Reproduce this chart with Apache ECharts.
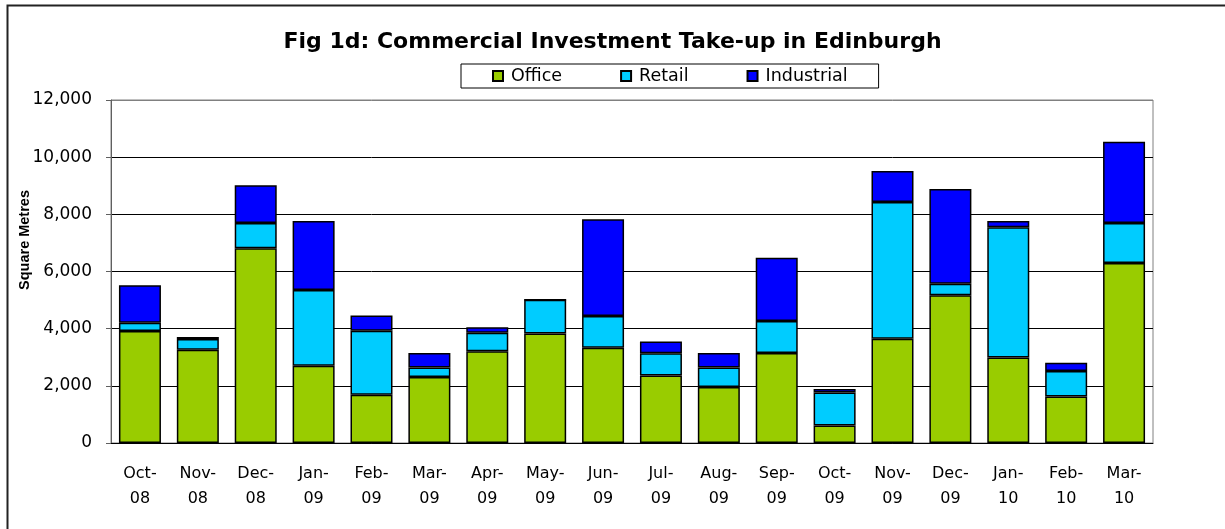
<!DOCTYPE html>
<html>
<head>
<meta charset="utf-8">
<title>Fig 1d: Commercial Investment Take-up in Edinburgh</title>
<script src="https://cdn.jsdelivr.net/npm/echarts@6/dist/echarts.min.js"></script>
<style>
  html, body { margin: 0; padding: 0; background: #fff; }
  #chart { width: 1225px; height: 529px; }
</style>
</head>
<body>
<div id="chart"></div>
<script>
// months
var months = ['Oct-08', 'Nov-08', 'Dec-08', 'Jan-09', 'Feb-09', 'Mar-09', 'Apr-09', 'May-09', 'Jun-09',
  'Jul-09', 'Aug-09', 'Sep-09', 'Oct-09', 'Nov-09', 'Dec-09', 'Jan-10', 'Feb-10', 'Mar-10']

// square metres, estimated from the bar segments
var office = [3920, 3260, 6810, 2700, 1690, 2310, 3210, 3830, 3330, 2360, 1960, 3150, 610, 3650, 5170, 2990, 1630, 6300]
var retail = [290, 380, 890, 2650, 2240, 330, 650, 1180, 1110, 780, 680, 1120, 1160, 4780, 400, 4560, 890, 1400]
var industrial = [1310, 70, 1320, 2420, 530, 510, 190, 0, 3390, 410, 510, 2210, 120, 1090, 3320, 220, 290, 2840]

var yTicks = [0, 2000, 4000, 6000, 8000, 10000, 12000]

var font = 'DejaVu Sans'

var chart = echarts.init(document.getElementById('chart'))

function seg(name, data, color) {
  return {
    name: name,
    type: 'bar',
    stack: 'total',
    data: data,
    barWidth: 42,
    itemStyle: {
      color: color,
      borderColor: '#000',
      borderWidth: 1.5
    }
  }
}

chart.setOption({
  backgroundColor: '#ffffff',
  animation: false,
  title: {
    text: 'Fig 1d: Commercial Investment Take-up in Edinburgh',
    left: 'center',
    top: 26,
    textStyle: {
      fontFamily: font,
      fontWeight: 'bold',
      fontSize: 22,
      color: '#000'
    }
  },
  legend: {
    left: 461,
    top: 64,
    icon: 'rect',
    itemWidth: 10,
    itemHeight: 10,
    itemGap: 58,
    padding: [3, 31, 3, 31],
    borderColor: '#000',
    borderWidth: 1,
    textStyle: {
      fontFamily: font,
      fontSize: 17.5,
      color: '#000',
      padding: [0, 0, 0, 3]
    }
  },
  grid: {
    left: 111,
    right: 72,
    top: 100,
    bottom: 86,
    show: true,
    borderColor: '#808080',
    borderWidth: 1
  },
  xAxis: {
    type: 'category',
    data: months,
    axisLine: { lineStyle: { color: '#000', width: 1 } },
    axisTick: { length: 5, lineStyle: { color: '#808080' } },
    axisLabel: {
      margin: 18,
      interval: 0,
      fontFamily: font,
      fontSize: 16,
      lineHeight: 25,
      color: '#000',
      formatter: function (v) { return v.replace('-', '-\n') }
    }
  },
  yAxis: {
    type: 'value',
    min: yTicks[0],
    max: yTicks[yTicks.length - 1],
    interval: 2000,
    axisLine: { show: true, lineStyle: { color: '#606060' } },
    axisTick: { show: true, length: 5, lineStyle: { color: '#606060' } },
    splitLine: {
      lineStyle: {
        color: ['#000', '#000', '#000', '#000', '#000', '#000', '#808080'],
        width: 1
      }
    },
    axisLabel: {
      margin: 19,
      fontFamily: font,
      fontSize: 17,
      color: '#000',
      formatter: function (v) { return v.toLocaleString('en-GB') }
    }
  },
  graphic: [
    {
      type: 'rect',
      shape: { x: 7.5, y: 5.5, width: 1240, height: 540 },
      style: { fill: null, stroke: '#222', lineWidth: 2 },
      silent: true
    },
    {
      type: 'text',
      x: 25,
      y: 240,
      rotation: Math.PI / 2,
      style: {
        text: 'Square Metres',
        fontFamily: 'Liberation Sans',
        fontWeight: 'bold',
        fontSize: 14.5,
        fill: '#000',
        align: 'center',
        verticalAlign: 'middle'
      }
    }
  ],
  series: [
    seg('Office', office, '#99CC00'),
    seg('Retail', retail, '#00CCFF'),
    seg('Industrial', industrial, '#0000FF')
  ]
})
</script>
</body>
</html>
